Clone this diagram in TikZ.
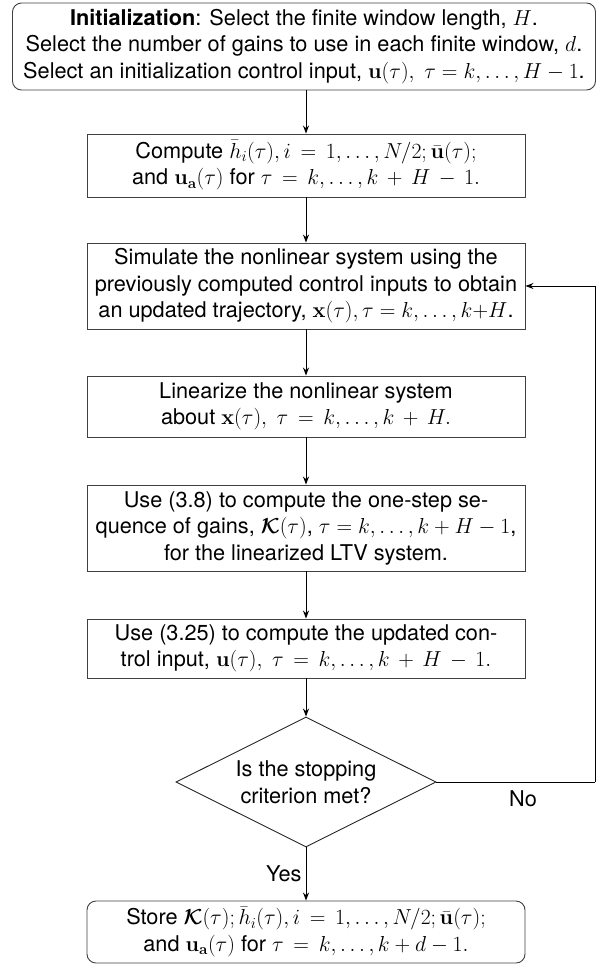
\RequirePackage{fix-cm}
\documentclass[tikz,border=0pt]{standalone}
\usepackage{amsmath,bm}
\usepackage[no-math]{fontspec}
\setmainfont{TeX Gyre Heros}
\usetikzlibrary{shapes.geometric,arrows.meta}

\newcommand{\flowfont}{\fontsize{21.7}{26.5}\selectfont}
\newcommand{\sq}{\mskip 3mu}

\begin{document}
\begin{tikzpicture}[x=1pt,y=-1pt,
  every node/.style={font=\flowfont},
  procbox/.style={draw=black!75, line width=0.9pt, minimum width=438pt,
    align=center, inner sep=0pt},
  termbox/.style={procbox, rounded corners=9pt},
  flow/.style={line width=1pt, -{Stealth[length=8pt,width=6pt]}},
  plain/.style={line width=1pt}]

\useasboundingbox (0,0) rectangle (597,967);

% Initialization block
\node[termbox, minimum width=583pt, minimum height=87pt] (init) at (304,46.5)
  {\textbf{Initialization}: Select the finite window length, $H$.\\
   Select the number of gains to use in each finite window, $d$.\\
   Select an initialization control input, $\mathbf{u}(\tau),\ \tau = k,\ldots,H-1$.};

% Main loop blocks
\node[procbox, minimum height=63pt] (avg) at (306,165.5)
  {Compute $\bar{h}_i(\tau), i\sq=\sq 1,\ldots,N/2; \bar{\mathbf{u}}(\tau);$\\
   and $\mathbf{u}_{\mathbf{a}}(\tau)$ for $\tau\sq=\sq k,\ldots,k\sq+\sq H\sq-\sq 1.$};

\node[procbox, minimum height=86pt] (sim) at (306,286)
  {Simulate the nonlinear system using the\\
   previously computed control inputs to obtain\\
   an updated trajectory, $\mathbf{x}(\tau), \tau = k,\ldots,k{+}H$.};

\node[procbox, minimum height=61pt] (lin) at (306,406.5)
  {Linearize the nonlinear system\\
   about $\mathbf{x}(\tau),\ \tau\sq=\sq k,\ldots,k\sq+\sq H.$};

\node[procbox, minimum height=86pt] (gain) at (306,528)
  {Use (3.8) to compute the one-step se-\\
   quence of gains, $\bm{\mathcal{K}}(\tau)$, $\tau = k,\ldots,k+H-1$,\\
   for the linearized LTV system.};

\node[procbox, minimum height=59pt] (upd) at (306,648.5)
  {Use (3.25) to compute the updated con-\\
   trol input, $\mathbf{u}(\tau),\ \tau\sq=\sq k,\ldots,k\sq+\sq H\sq-\sq 1.$};

% Decision
\node[diamond, draw=black!85, line width=0.9pt, inner sep=0pt,
  minimum width=260pt, minimum height=130pt] (dec) at (306,782) {};
\node[align=center] (dectext) at (dec.center) {Is the stopping\\criterion met?};

% Final storage block
\node[termbox, minimum height=62pt] (store) at (306,932)
  {Store $\bm{\mathcal{K}}(\tau); \bar{h}_i(\tau), i\sq=\sq 1,\ldots,N/2; \bar{\mathbf{u}}(\tau);$\\
   and $\mathbf{u}_{\mathbf{a}}(\tau)$ for $\tau\sq=\sq k,\ldots,k+d-1.$};

% Connectors
\draw[flow] (init.south -| avg.north) -- (avg.north);
\draw[flow] (avg) -- (sim);
\draw[flow] (sim) -- (lin);
\draw[flow] (lin) -- (gain);
\draw[flow] (gain) -- (upd);
\draw[flow] (upd) -- (dec.north);
\draw[flow] (dec.south) -- node[left, inner sep=4pt] (yes) {Yes} (store.north);

% Feedback path
\coordinate (fbdown) at (595,782);
\coordinate (fbup) at (595,286);
\draw[plain] (dec.east) -- (fbdown);
\draw[flow] (fbdown) -- (fbup) -- (sim.east);
\node (no) at (523,799) {No};

\end{tikzpicture}
\end{document}
